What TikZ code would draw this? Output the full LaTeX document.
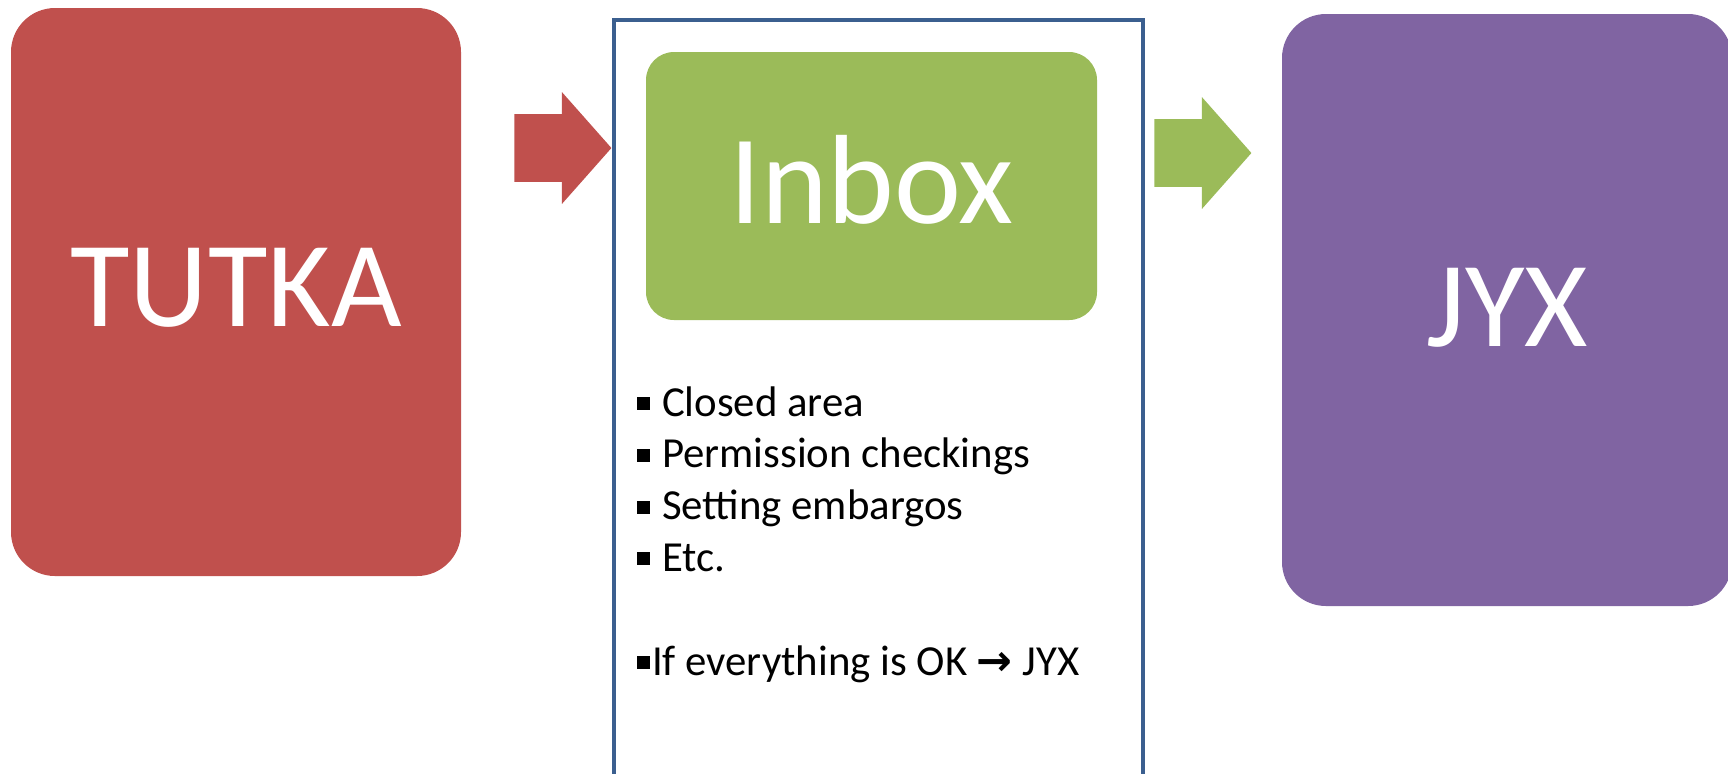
\documentclass[tikz,border=0pt]{standalone}
\usepackage{fontspec}
\setmainfont{Carlito}
\newfontfamily\arrowfont{DejaVu Sans}
\usetikzlibrary{shapes.arrows}

\definecolor{tutkared}{HTML}{C0504D}
\definecolor{inboxgreen}{HTML}{9BBB59}
\definecolor{jyxpurple}{HTML}{8064A2}
\definecolor{panelblue}{HTML}{3B5F8F}

\newcommand{\sqitem}{\rule[3pt]{6.3pt}{6.5pt}}

\begin{document}
\begin{tikzpicture}[x=0.5pt,y=-0.5pt,
    block/.style={rounded corners=22pt, minimum width=225pt, text=white,
        font=\fontsize{61}{70}\selectfont, inner sep=0pt},
    flowarrow/.style={single arrow, single arrow head extend=11pt,
        single arrow tip angle=97, minimum height=48.5pt,
        inner xsep=0pt, inner ysep=16.75pt, anchor=tail}]
\useasboundingbox (0,0) rectangle (1728,773);

% three stages
\node[block, fill=tutkared, minimum height=284pt, text depth=4.4pt] (tutka) at (236,292) {TUTKA};
\node[block, fill=jyxpurple, minimum height=296pt, text depth=2.8pt] (jyx) at (1507,310) {JYX};
\node[draw=panelblue, line width=1.6pt, minimum width=264.5pt,
    minimum height=385pt, inner sep=0pt] (panel) at (878.5,405) {};
\node[block, fill=inboxgreen, rounded corners=14pt, minimum width=225.5pt,
    minimum height=134pt, text depth=7pt, font=\fontsize{63.5}{70}\selectfont] (inbox) at (871.5,186) {Inbox};

% arrows between the stages
\node[flowarrow, fill=tutkared] (toinbox) at (514,148) {};
\node[flowarrow, fill=inboxgreen] (tojyx) at (1154,153) {};

% what happens in the inbox
\node[anchor=base west, align=left, inner sep=0pt,
    font=\fontsize{21.4}{25.9}\selectfont] (checks) at (637,675)
  {\sqitem\hspace{6pt}Closed area\\
   \sqitem\hspace{6pt}Permission checkings\\
   \sqitem\hspace{6pt}Setting embargos\\
   \sqitem\hspace{6pt}Etc.\\[25.9pt]
   \sqitem\hspace{1pt}If everything is OK {\arrowfont\bfseries →} JYX};
\end{tikzpicture}
\end{document}
